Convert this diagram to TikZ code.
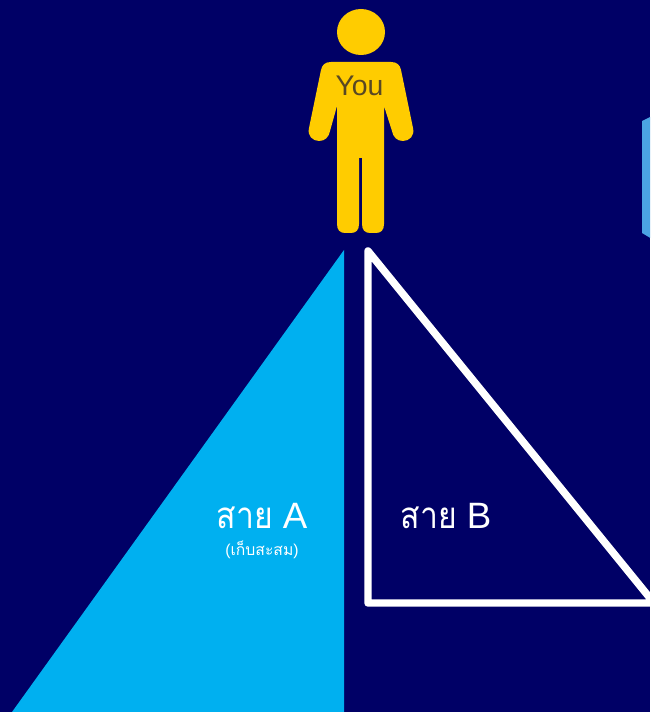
\documentclass[tikz,border=0pt]{standalone}
\usepackage{fontspec}
\setmainfont{Liberation Sans}
\newfontfamily\thaifont[Script=Thai]{Loma}
\newfontfamily\thainarrow[Script=Thai,FakeStretch=0.87]{Loma}
\usetikzlibrary{positioning}
\definecolor{bgNavy}{RGB}{0,0,102}
\definecolor{fillSky}{RGB}{0,176,240}
\definecolor{fillHex}{RGB}{75,163,227}
\definecolor{personGold}{RGB}{255,204,0}
\definecolor{youGrey}{RGB}{88,72,36}
\newcommand{\saiword}{{\thainarrow สาย}}
\tikzset{
    lineLabel/.style={text=white, inner sep=0pt, font=\fontsize{27.5}{30}\selectfont},
    subLabel/.style={text=white, inner sep=0pt, font=\fontsize{11.8}{14}\selectfont},
}

\begin{document}
\begin{tikzpicture}[x=0.75pt, y=-0.75pt]
    \useasboundingbox (0,0) rectangle (650,712);
    \fill[bgNavy] (0,0) rectangle (650,712);
    \begin{scope}
        \clip (0,0) rectangle (650,712);
        \fill[fillHex] (642,121) -- (652,116) -- (652,239) -- (642,233) -- cycle;
        \fill[fillSky] (344,250) -- (344,712) -- (12,712) -- cycle;
        \draw[white, line width=5.6pt, line join=round] (368,251) -- (368,603) -- (654,603) -- cycle;
        % person
        \fill[personGold] (361,32) ellipse [x radius=24, y radius=23];
        \fill[personGold] (331,62) -- (391,62)
            .. controls (397,62) and (400,65) .. (401,70)
            -- (413,128)
            .. controls (415,136) and (409,141) .. (403,141)
            .. controls (397,141) and (393,137) .. (392,131)
            -- (384,106) -- (384,224)
            .. controls (384,230) and (381,233) .. (376,233)
            -- (370,233)
            .. controls (365,233) and (362,230) .. (362,224)
            -- (362,158) -- (359,158) -- (359,224)
            .. controls (359,230) and (356,233) .. (351,233)
            -- (345,233)
            .. controls (340,233) and (337,230) .. (337,224)
            -- (337,106) -- (330,131)
            .. controls (329,137) and (325,141) .. (319,141)
            .. controls (313,141) and (307,136) .. (309,128)
            -- (321,70)
            .. controls (322,65) and (325,62) .. (331,62) -- cycle;
    \end{scope}
    \node[inner sep=0pt, text=youGrey, font=\fontsize{21.3}{24}\selectfont] (you) at (359.5,86) {You};
    \node[lineLabel] (lineA) at (262,516) {\saiword{} A};
    \node[lineLabel] (lineB) at (446,516) {\saiword{} B};
    \node[subLabel] (savings) at (262,550) {({\thaifont เก็บสะสม})};
\end{tikzpicture}
\end{document}
